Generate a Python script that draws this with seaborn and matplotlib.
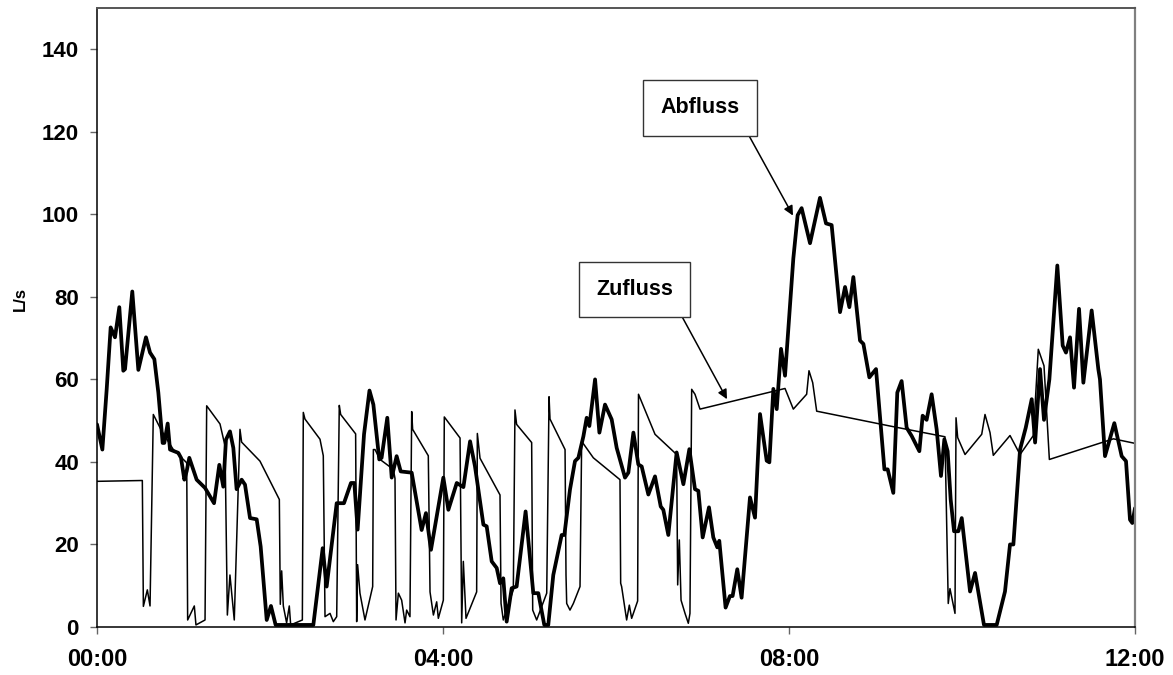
import matplotlib
matplotlib.use("Agg")
import matplotlib.pyplot as plt
import seaborn as sns
import pandas as pd

# Zufluss (inflow), hours since 00:00 and L/s
zu_hours = [0.0, 0.524, 0.536, 0.582, 0.613, 0.651, 0.748, 0.882, 1.037, 1.048,
            1.075, 1.125, 1.144, 1.249, 1.268, 1.422, 1.480, 1.507, 1.537, 1.587,
            1.653, 1.672, 1.884, 2.108, 2.119, 2.135, 2.154, 2.192, 2.223, 2.239,
            2.374, 2.385, 2.404, 2.578, 2.616, 2.636, 2.694, 2.732, 2.771, 2.801,
            2.817, 2.990, 3.002, 3.013, 3.040, 3.098, 3.187, 3.195, 3.214, 3.272,
            3.426, 3.445, 3.457, 3.484, 3.522, 3.561, 3.580, 3.618, 3.638, 3.649,
            3.830, 3.850, 3.889, 3.927, 3.946, 4.004, 4.015, 4.197, 4.216, 4.235,
            4.266, 4.389, 4.397, 4.428, 4.659, 4.671, 4.697, 4.813, 4.832, 4.851,
            5.025, 5.037, 5.083, 5.199, 5.226, 5.237, 5.411, 5.422, 5.430, 5.468,
            5.507, 5.584, 5.603, 5.738, 6.046, 6.054, 6.065, 6.123, 6.154, 6.181,
            6.250, 6.260, 6.451, 6.701, 6.713, 6.732, 6.752, 6.798, 6.836, 6.855,
            6.875, 6.913, 6.971, 7.954, 8.050, 8.204, 8.231, 8.274, 8.320, 9.168,
            9.803, 9.841, 9.861, 9.919, 9.931, 9.950, 10.035, 10.228, 10.266, 10.324,
            10.362, 10.555, 10.671, 10.825, 10.882, 10.948, 11.010, 11.750, 12.0]
zu_values = [35.3, 35.5, 5.0, 9.0, 5.1, 51.5, 47.5, 43.0, 39.8, 1.7,
             2.9, 5.1, 0.5, 1.7, 53.6, 49.2, 43.9, 2.9, 12.6, 1.7,
             47.9, 44.8, 40.2, 30.9, 5.5, 13.6, 5.1, 1.0, 5.1, 0.5,
             1.7, 52.0, 50.4, 45.5, 41.5, 2.5, 3.3, 1.3, 2.5, 53.7,
             51.5, 46.8, 1.3, 15.1, 8.2, 1.7, 9.8, 43.0, 43.0, 40.6,
             38.2, 36.0, 1.7, 8.2, 6.5, 1.0, 4.1, 2.5, 52.2, 47.9,
             41.5, 8.5, 2.9, 6.1, 2.1, 6.5, 50.9, 45.8, 1.0, 15.9,
             2.1, 8.5, 46.9, 40.9, 32.0, 5.7, 1.7, 9.0, 52.6, 49.1,
             44.7, 4.1, 1.7, 8.2, 55.8, 50.4, 43.0, 12.6, 5.7, 4.1,
             5.7, 9.8, 45.0, 41.0, 35.7, 10.6, 9.8, 1.7, 5.3, 2.1,
             6.3, 56.4, 46.7, 41.8, 10.2, 21.1, 6.5, 3.3, 0.9, 3.3,
             57.6, 56.4, 52.8, 57.8, 52.8, 56.4, 62.1, 59.2, 52.3, 48.7,
             46.1, 5.7, 9.3, 3.3, 50.7, 45.9, 41.8, 46.7, 51.5, 47.1,
             41.6, 46.4, 41.8, 46.4, 67.3, 63.3, 40.6, 45.6, 44.5]

# Abfluss (outflow), hours since 00:00 and L/s
ab_hours = [0.0, 0.062, 0.112, 0.158, 0.208, 0.258, 0.304, 0.324, 0.408, 0.478,
            0.566, 0.613, 0.663, 0.709, 0.759, 0.778, 0.817, 0.844, 0.940, 0.971,
            1.010, 1.037, 1.067, 1.152, 1.249, 1.353, 1.414, 1.460, 1.491, 1.537,
            1.576, 1.614, 1.672, 1.711, 1.769, 1.846, 1.892, 1.962, 2.011, 2.065,
            2.501, 2.609, 2.655, 2.771, 2.855, 2.936, 2.975, 3.013, 3.087, 3.150,
            3.195, 3.263, 3.290, 3.356, 3.407, 3.464, 3.511, 3.638, 3.753, 3.803,
            3.861, 4.004, 4.062, 4.159, 4.236, 4.313, 4.370, 4.467, 4.505, 4.563,
            4.621, 4.659, 4.697, 4.736, 4.794, 4.851, 4.955, 5.044, 5.102, 5.171,
            5.217, 5.275, 5.372, 5.403, 5.468, 5.526, 5.565, 5.623, 5.661, 5.692,
            5.758, 5.808, 5.873, 5.950, 6.008, 6.104, 6.143, 6.201, 6.258, 6.297,
            6.374, 6.451, 6.517, 6.547, 6.605, 6.701, 6.779, 6.848, 6.913, 6.952,
            7.002, 7.075, 7.125, 7.171, 7.194, 7.267, 7.317, 7.348, 7.402, 7.452,
            7.549, 7.607, 7.665, 7.742, 7.773, 7.819, 7.858, 7.908, 7.954, 8.050,
            8.100, 8.146, 8.243, 8.358, 8.428, 8.493, 8.590, 8.648, 8.698, 8.744,
            8.821, 8.860, 8.929, 9.006, 9.103, 9.141, 9.206, 9.252, 9.302, 9.360,
            9.418, 9.507, 9.545, 9.591, 9.649, 9.707, 9.757, 9.796, 9.834, 9.869,
            9.908, 9.958, 9.997, 10.093, 10.151, 10.254, 10.401, 10.497, 10.555, 10.594,
            10.671, 10.737, 10.806, 10.845, 10.902, 10.948, 11.010, 11.102, 11.164, 11.202,
            11.249, 11.295, 11.353, 11.403, 11.499, 11.576, 11.595, 11.653, 11.761, 11.846,
            11.896, 11.942, 11.969, 12.0]
ab_values = [49.1, 43.0, 57.6, 72.6, 70.2, 77.5, 62.1, 62.5, 81.3, 62.3,
             70.2, 66.5, 64.9, 56.8, 44.6, 44.6, 49.3, 43.0, 42.2, 41.0,
             35.7, 37.8, 41.0, 35.7, 33.7, 30.0, 39.3, 34.0, 45.4, 47.4,
             43.4, 33.4, 35.7, 34.5, 26.4, 26.1, 19.5, 1.7, 5.1, 0.5,
             0.5, 19.1, 9.8, 30.0, 30.0, 34.9, 34.9, 23.6, 46.7, 57.3,
             53.9, 40.6, 41.0, 50.7, 36.2, 41.4, 37.7, 37.4, 23.5, 27.6,
             18.7, 36.2, 28.4, 34.9, 33.9, 45.0, 38.9, 24.8, 24.4, 15.9,
             14.3, 10.6, 11.8, 1.3, 9.4, 9.8, 28.0, 8.2, 8.2, 0.5,
             0.5, 12.6, 22.3, 22.3, 33.3, 40.2, 41.0, 46.2, 50.7, 48.7,
             60.0, 47.1, 53.9, 50.3, 43.4, 36.2, 37.4, 47.1, 39.4, 38.9,
             32.1, 36.5, 29.2, 28.4, 22.3, 42.3, 34.6, 43.1, 33.4, 33.0,
             21.7, 29.0, 21.7, 19.3, 20.9, 4.7, 7.5, 7.5, 14.0, 7.1,
             31.4, 26.5, 51.6, 40.3, 39.9, 57.7, 52.8, 67.4, 60.9, 89.3,
             99.8, 101.5, 93.0, 104.0, 97.8, 97.4, 76.3, 82.4, 77.5, 84.8,
             69.4, 68.6, 60.5, 62.5, 38.2, 38.2, 32.5, 56.8, 59.6, 48.3,
             46.3, 42.6, 51.2, 50.2, 56.4, 47.9, 36.6, 45.5, 42.6, 30.9,
             23.2, 23.2, 26.4, 8.6, 13.1, 0.5, 0.5, 8.6, 20.0, 20.0,
             43.0, 48.3, 55.2, 44.7, 62.5, 50.2, 60.0, 87.6, 68.2, 66.5,
             70.2, 58.0, 77.1, 59.2, 76.7, 62.5, 60.0, 41.4, 49.4, 41.4,
             40.2, 26.0, 25.2, 28.8]

tick_hours = [0, 4, 8, 12]
tick_labels = ["00:00", "04:00", "08:00", "12:00"]
y_ticks = [0, 20, 40, 60, 80, 100, 120, 140]

zu = pd.DataFrame({"Zeit": zu_hours, "Durchfluss": zu_values})
ab = pd.DataFrame({"Zeit": ab_hours, "Durchfluss": ab_values})

sns.set_theme(style="white")
plt.rcParams["font.family"] = ["Liberation Sans", "DejaVu Sans"]
plt.rcParams["font.weight"] = "bold"
plt.rcParams["text.color"] = "black"
plt.rcParams["axes.labelcolor"] = "black"

fig = plt.figure(figsize=(11.73, 6.75), dpi=100)
ax = fig.add_axes([97 / 1173, 1 - 627 / 675, 1038 / 1173, 619 / 675])

sns.lineplot(data=zu, x="Zeit", y="Durchfluss", ax=ax, color="black",
             linewidth=1.1, sort=False, estimator=None)
sns.lineplot(data=ab, x="Zeit", y="Durchfluss", ax=ax, color="black",
             linewidth=2.7, sort=False, estimator=None,
             solid_joinstyle="round", solid_capstyle="round")

ax.set_xlim(0, 12)
ax.set_ylim(0, 150)
ax.set_xticks(tick_hours)
ax.set_xticklabels(tick_labels, fontsize=17, fontweight="bold", color="black")
ax.set_yticks(y_ticks)
ax.set_yticklabels([str(v) for v in y_ticks], fontsize=16, fontweight="bold",
                   color="black")
ax.tick_params(axis="both", which="major", direction="out", length=5,
               width=1, color="#666666", left=True, bottom=True)
ax.tick_params(axis="y", pad=8)
ax.tick_params(axis="x", pad=10)

ax.set_xlabel("")
ax.set_ylabel("L/s", fontsize=12, fontweight="bold", color="black")
ax.yaxis.set_label_coords(-0.067, 0.53)

for side in ("left", "bottom"):
    ax.spines[side].set_color("black")
    ax.spines[side].set_linewidth(1.1)
ax.spines["top"].set_color("#555555")
ax.spines["top"].set_linewidth(1.4)
ax.spines["right"].set_color("#808080")
ax.spines["right"].set_linewidth(1.6)

box = dict(boxstyle="square,pad=0.8", facecolor="white", edgecolor="#333333",
           linewidth=1.0)
arrow = dict(arrowstyle="-|>", color="black", lw=1.1, mutation_scale=14,
             relpos=(1.0, 0.0), shrinkA=0, shrinkB=0)

ax.annotate("Abfluss", xy=(8.046, 99.7), xytext=(6.97, 125.8),
            ha="center", va="center", fontsize=15.5, fontweight="bold",
            color="black", bbox=box, arrowprops=arrow)
ax.annotate("Zufluss", xy=(7.283, 55.2), xytext=(6.214, 81.8),
            ha="center", va="center", fontsize=15.5, fontweight="bold",
            color="black", bbox=box, arrowprops=arrow)

fig.savefig("out.png", dpi=100)
